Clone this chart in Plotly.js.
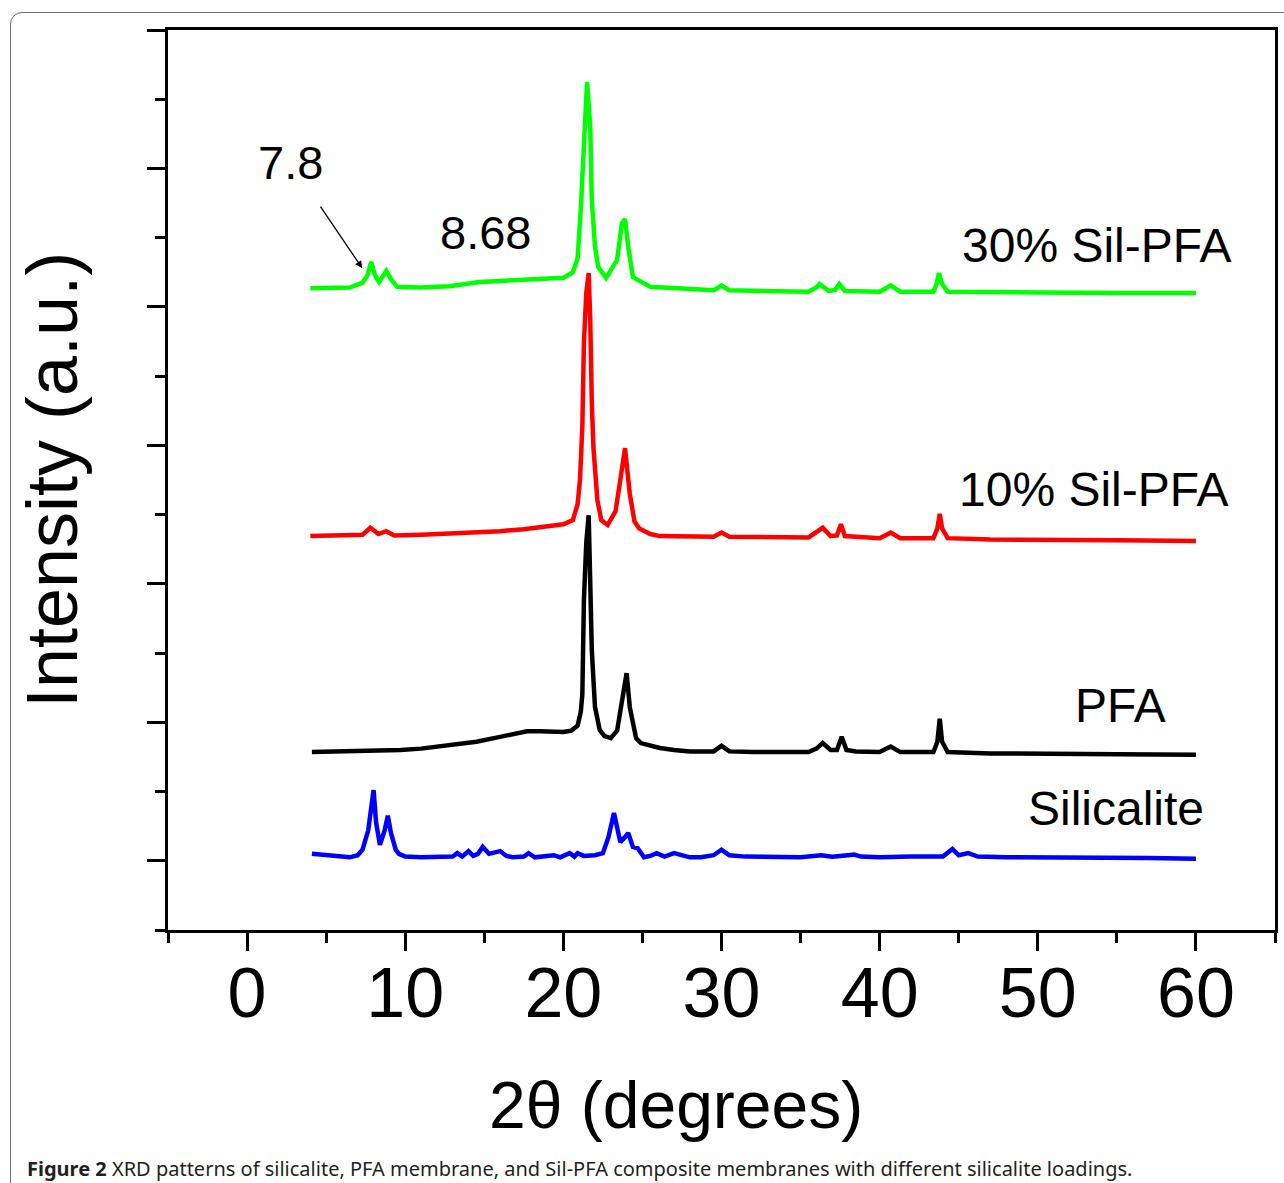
<!DOCTYPE html>
<html>
<head>
<meta charset="utf-8">
<script src="https://cdn.plot.ly/plotly-3.0.1.min.js"></script>
<style>
  html, body { margin: 0; padding: 0; background: #ffffff; overflow: hidden; }
  #wrap { position: relative; width: 1284px; height: 1183px; }
  #frame { position: absolute; left: 10px; top: 12px; width: 1300px; height: 1200px;
           border: 1px solid #6d6e71; border-radius: 12px; pointer-events: none; z-index: 5; }
  #chart { position: absolute; left: 0; top: 0; width: 1284px; height: 1183px; }
</style>
</head>
<body>
<div id="wrap">
  <div id="chart"></div>
  <div id="frame"></div>
</div>
<script>
// ---- Data (2θ in degrees, intensity in a.u.) ----
const silicalite = [
  [4.1,1.10],[5.5,1.07],[6.5,1.05],[7.0,1.08],[7.3,1.16],[7.66,1.44],[7.9,1.83],[8.0,2.02],[8.16,1.55],
  [8.4,1.23],[8.7,1.44],[8.9,1.65],[9.1,1.40],[9.4,1.16],[9.6,1.10],[10.0,1.06],[11.0,1.05],[12.0,1.05],
  [13.0,1.06],[13.3,1.11],[13.6,1.06],[14.0,1.14],[14.3,1.07],[14.6,1.10],[14.9,1.20],[15.3,1.10],
  [15.6,1.11],[16.0,1.14],[16.4,1.07],[16.8,1.05],[17.5,1.06],[17.8,1.11],[18.2,1.05],[19.0,1.06],
  [19.4,1.08],[19.8,1.05],[20.4,1.11],[20.7,1.06],[20.9,1.11],[21.3,1.07],[22.0,1.08],[22.5,1.11],
  [22.85,1.34],[23.2,1.69],[23.4,1.44],[23.6,1.27],[23.85,1.33],[24.1,1.40],[24.4,1.20],[24.7,1.18],
  [25.1,1.05],[25.5,1.07],[25.9,1.11],[26.4,1.06],[27.0,1.11],[27.5,1.08],[28.0,1.05],[28.7,1.05],
  [29.5,1.08],[30.0,1.16],[30.5,1.08],[31.5,1.06],[33.0,1.06],[35.0,1.05],[36.3,1.08],[37.0,1.06],
  [38.0,1.08],[38.4,1.09],[38.8,1.06],[40.0,1.05],[42.0,1.06],[44.0,1.06],[44.6,1.17],[45.0,1.08],
  [45.6,1.11],[46.2,1.06],[48.0,1.05],[50.0,1.05],[52.0,1.04],[55.0,1.05],[57.0,1.04],[60.0,1.03]
];
const pfa = [
  [4.1,2.57],[6.0,2.58],[8.0,2.58],[9.7,2.60],[11.0,2.62],[12.8,2.67],[14.5,2.72],[16.0,2.79],
  [17.0,2.83],[17.7,2.87],[18.5,2.87],[19.2,2.86],[20.0,2.86],[20.5,2.88],[20.9,2.95],[21.1,3.15],
  [21.2,3.40],[21.3,4.77],[21.45,5.60],[21.6,5.99],[21.7,5.24],[21.8,4.04],[22.0,3.22],[22.3,2.89],
  [22.6,2.80],[23.0,2.77],[23.4,2.88],[23.7,3.32],[24.0,3.71],[24.2,3.22],[24.6,2.77],[24.9,2.70],
  [25.5,2.66],[26.1,2.63],[27.0,2.60],[28.0,2.58],[29.5,2.58],[30.0,2.66],[30.5,2.58],[32.0,2.57],
  [35.5,2.57],[36.0,2.62],[36.4,2.70],[36.9,2.60],[37.3,2.60],[37.6,2.79],[37.9,2.60],[38.5,2.58],
  [40.0,2.57],[40.7,2.65],[41.3,2.57],[43.4,2.57],[43.65,2.72],[43.8,3.05],[43.95,2.72],[44.3,2.57],
  [47.0,2.55],[50.0,2.55],[55.0,2.54],[60.0,2.53]
];
const silPfa10 = [
  [4.0,5.69],[6.5,5.70],[7.3,5.71],[7.8,5.81],[8.3,5.72],[8.8,5.76],[9.3,5.70],[11.0,5.71],
  [12.8,5.73],[14.5,5.74],[16.0,5.76],[17.5,5.79],[18.5,5.82],[19.5,5.84],[20.0,5.86],[20.6,5.92],
  [20.9,6.15],[21.05,6.50],[21.2,7.27],[21.3,8.48],[21.45,9.20],[21.6,9.49],[21.7,8.81],[21.8,7.61],
  [21.9,6.98],[22.15,6.21],[22.4,5.92],[22.8,5.85],[23.3,6.05],[23.6,6.50],[23.9,6.96],[24.2,6.30],
  [24.5,5.90],[24.8,5.80],[25.5,5.72],[26.1,5.69],[28.0,5.68],[29.5,5.68],[30.0,5.74],[30.5,5.68],
  [35.5,5.67],[36.0,5.74],[36.4,5.81],[36.9,5.69],[37.3,5.70],[37.55,5.86],[37.8,5.69],[40.0,5.66],
  [40.7,5.74],[41.3,5.66],[43.4,5.66],[43.65,5.80],[43.8,6.01],[43.95,5.80],[44.3,5.66],[47.0,5.64],
  [50.0,5.64],[55.0,5.63],[60.0,5.62]
];
const silPfa30 = [
  [4.0,9.27],[5.5,9.27],[6.5,9.28],[7.3,9.35],[7.6,9.45],[7.85,9.65],[8.1,9.45],[8.35,9.36],
  [8.8,9.52],[9.1,9.40],[9.5,9.29],[11.0,9.28],[12.8,9.30],[14.7,9.36],[16.5,9.38],[17.9,9.40],
  [19.0,9.41],[20.0,9.42],[20.6,9.50],[20.9,9.70],[21.1,10.40],[21.3,11.37],[21.5,12.25],[21.7,11.60],
  [21.8,10.54],[22.0,9.87],[22.2,9.58],[22.7,9.42],[23.1,9.56],[23.4,9.68],[23.7,10.21],[23.9,10.27],
  [24.1,9.87],[24.4,9.43],[25.5,9.29],[28.0,9.25],[29.5,9.24],[30.0,9.31],[30.5,9.24],[35.5,9.22],
  [36.0,9.28],[36.2,9.33],[36.8,9.23],[37.2,9.25],[37.45,9.33],[37.8,9.23],[40.0,9.22],[40.7,9.31],
  [41.3,9.22],[43.4,9.22],[43.6,9.33],[43.75,9.49],[43.95,9.33],[44.3,9.22],[47.0,9.21],[50.0,9.21],
  [55.0,9.20],[60.0,9.20]
];
const seriesNames = ["Silicalite", "PFA", "10% Sil-PFA", "30% Sil-PFA"];
const seriesColors = ["#0000ff", "#000000", "#ff0000", "#00ff00"];
// curve label positions (2θ, intensity)
const labelX = [54.94, 55.25, 53.54, 53.73];
const labelY = [1.76, 3.24, 6.36, 9.89];
const peakNote = {text: "8.68", x: 15.06, y: 10.07};
const arrowNote = {text: "7.8", x: 7.28, y: 9.56};
const xTitle = "2θ (degrees)";
const yTitle = "Intensity (a.u.)";
const captionBold = "Figure 2";
const captionText = " XRD patterns of silicalite, PFA membrane, and Sil-PFA composite membranes with different silicalite loadings.";

const allSeries = [silicalite, pfa, silPfa10, silPfa30];
const traces = allSeries.map((s, i) => ({
  type: "scatter", mode: "lines", name: seriesNames[i],
  x: s.map(p => p[0]), y: s.map(p => p[1]),
  line: {color: seriesColors[i], width: 4.5, shape: "linear"},
  hoverinfo: "x+y+name"
}));

const FONT = "Liberation Sans, Arial, sans-serif";
const annotations = seriesNames.map((n, i) => ({
  x: labelX[i], y: labelY[i], xref: "x", yref: "y", text: n, showarrow: false,
  font: {family: FONT, size: 48, color: "#000"}, xanchor: "center", yanchor: "middle"
}));
annotations.push({
  x: peakNote.x, y: peakNote.y, xref: "x", yref: "y", text: peakNote.text, showarrow: false,
  font: {family: FONT, size: 47, color: "#000"}, xanchor: "center", yanchor: "middle"
});
annotations.push({
  x: arrowNote.x, y: arrowNote.y, xref: "x", yref: "y", text: arrowNote.text,
  showarrow: true, ax: -72, ay: -106, arrowhead: 2, arrowsize: 1.1, arrowwidth: 1.3,
  arrowcolor: "#000", startstandoff: 20, standoff: 0,
  font: {family: FONT, size: 47, color: "#000"}
});
// x-axis title (offset left of the plot centre, as in the original figure);
// paper units are relative to the plot area (168..1275 x 30..930 px)
annotations.push({
  x: (676 - 168) / 1107, y: -(1105 - 930) / 900, xref: "paper", yref: "paper",
  xanchor: "center", yanchor: "middle", text: xTitle, showarrow: false,
  font: {family: FONT, size: 66, color: "#000"}
});
annotations.push({
  x: (25 - 168) / 1107, y: -(1168 - 930) / 900, xref: "paper", yref: "paper",
  xanchor: "left", yanchor: "middle",
  text: "<b>" + captionBold + "</b>" + captionText, showarrow: false,
  font: {family: "Noto Sans, Open Sans, sans-serif", size: 20, color: "#231f20"}
});

const layout = {
  width: 1284, height: 1183,
  margin: {l: 168, r: 9, t: 30, b: 253},
  paper_bgcolor: "#ffffff", plot_bgcolor: "#ffffff",
  showlegend: false,
  xaxis: {
    range: [-5, 65], tick0: 0, dtick: 10, ticks: "outside", ticklen: 18, tickwidth: 3,
    tickcolor: "#000", showline: true, linewidth: 3, linecolor: "#000", mirror: true,
    showgrid: false, zeroline: false, ticklabelstandoff: -18,
    tickfont: {family: FONT, size: 70, color: "#000"},
    minor: {dtick: 5, tick0: 0, ticks: "outside", ticklen: 10, tickwidth: 3, tickcolor: "#000", showgrid: false},
    title: {text: ""}
  },
  yaxis: {
    range: [0, 13], tick0: 1, dtick: 2, ticks: "outside", ticklen: 18, tickwidth: 3,
    tickcolor: "#000", showline: true, linewidth: 3, linecolor: "#000", mirror: true,
    showgrid: false, zeroline: false, showticklabels: false,
    minor: {dtick: 1, tick0: 0, ticks: "outside", ticklen: 10, tickwidth: 3, tickcolor: "#000", showgrid: false},
    title: {text: yTitle, font: {family: FONT, size: 72, color: "#000"}, standoff: 46}
  },
  annotations: annotations
};

Plotly.newPlot("chart", traces, layout, {displayModeBar: false, staticPlot: true});
</script>
</body>
</html>
